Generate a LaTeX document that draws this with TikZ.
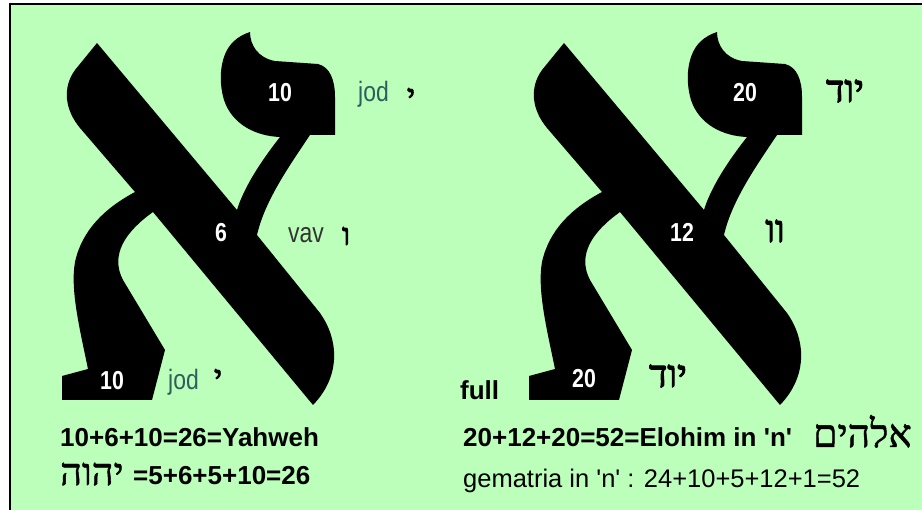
\documentclass[tikz,border=0pt]{standalone}
\usepackage{fontspec}
\setmainfont{Liberation Sans}
\newfontfamily\narrowf{Liberation Sans}[FakeStretch=0.82]
\newfontfamily\hebf[Script=Hebrew,FakeBold=1.2]{Liberation Serif}
\newfontfamily\hebbf[Script=Hebrew,FakeBold=2.5]{Liberation Serif}
\newfontfamily\hebxbf[Script=Hebrew,FakeBold=3.5]{Liberation Serif}
\TeXXeTstate=1
\definecolor{bg}{HTML}{BBFFBB}
\definecolor{jodc}{HTML}{2E5E5E}
\definecolor{vavc}{HTML}{333333}
\tikzset{
  num/.style={text=white, font=\narrowf\bfseries\fontsize{26}{26}\selectfont, inner sep=0pt, anchor=base west},
  lab/.style={text=jodc, font=\narrowf\fontsize{28}{28}\selectfont, inner sep=0pt, anchor=base west},
  hebsmall/.style={font=\hebxbf\fontsize{30}{30}\selectfont, inner sep=0pt},
  hebbig/.style={font=\hebbf\fontsize{38}{38}\selectfont, inner sep=0pt},
  eqb/.style={font=\bfseries\fontsize{26}{26}\selectfont, inner sep=0pt, anchor=base west},
  eqn/.style={font=\fontsize{25.5}{25.5}\selectfont, inner sep=0pt, anchor=base west},
  alephpic/.pic={
    \fill[black] (97,43) -- (237,210)
      .. controls (243,190) and (258,165) .. (280,137)
      .. controls (255,136) and (232,124) .. (224,100)
      .. controls (218,80) and (220,55) .. (233,42)
      .. controls (238,37) and (244,34) .. (250,32)
      .. controls (250,45) and (258,58) .. (275,61)
      -- (318,64)
      .. controls (330,67) and (335,80) .. (335,97)
      -- (335,135) -- (310,135)
      .. controls (290,165) and (265,200) .. (257,235)
      -- (320,313)
      .. controls (338,338) and (342,375) .. (313,405)
      -- (153,212)
      .. controls (125,232) and (110,255) .. (123,280)
      -- (165,350) -- (152,400) -- (62,400) -- (62,376) -- (88,369)
      .. controls (80,330) and (70,290) .. (75,262)
      .. controls (82,230) and (105,208) .. (135,192)
      -- (80,128)
      .. controls (65,110) and (62,88) .. (75,70)
      -- cycle;
  }
}
\begin{document}
\begin{tikzpicture}[x=1pt,y=-1pt]
\useasboundingbox (0,0) rectangle (922,510);
\fill[white] (0,0) rectangle (922,510);
\fill[bg] (10,4) rectangle (922,510);
\draw[line width=2.5pt] (10,510) -- (10,4) -- (922,4);

\pic at (0,0) {alephpic};
\pic at (467,0) {alephpic};

% left aleph
\node[num] (n1) at (268,102) {10};
\node[lab] (j1) at (358,102) {jod};
\node[hebsmall] (y1) at (411,97) {\beginR י\endR};
\node[num] (n2) at (215,242) {6};
\node[lab, text=vavc] (v1) at (288,243) {vav};
\node[hebsmall] (w1) at (346,236) {\beginR ו\endR};
\node[num] (n3) at (100,390) {10};
\node[lab] (j2) at (168,390) {jod};
\node[hebsmall] (y2) at (218,378) {\beginR י\endR};

% right aleph
\node[num] (m1) at (733,102) {20};
\node[hebbig] (h1) at (845,91) {\beginR יוד\endR};
\node[num] (m2) at (670,242) {12};
\node[hebbig] (h2) at (775,231) {\beginR וו\endR};
\node[num] (m3) at (572,388) {20};
\node[hebbig] (h3) at (668,376) {\beginR יוד\endR};
\node[eqb] (full) at (460,400) {full};

% equations
\node[eqb] (e1) at (60,447) {10+6+10=26=Yahweh};
\node[font=\hebf\fontsize{38}{38}\selectfont, inner sep=0pt, anchor=base west] (e2h) at (60,485) {\beginR יהוה\endR};
\node[eqb] (e2) at (133,485) {=5+6+5+10=26};
\node[eqb] (e3) at (463,447) {20+12+20=52=Elohim in \textquotesingle n\textquotesingle};
\node[font=\hebf\fontsize{39}{39}\selectfont, inner sep=0pt, anchor=base east] (e3h) at (912,447) {\beginR אלהים\endR};
\node[eqn] (e4) at (463,488) {gematria in \textquotesingle n\textquotesingle\ : 24+10+5+12+1=52};
\end{tikzpicture}
\end{document}
